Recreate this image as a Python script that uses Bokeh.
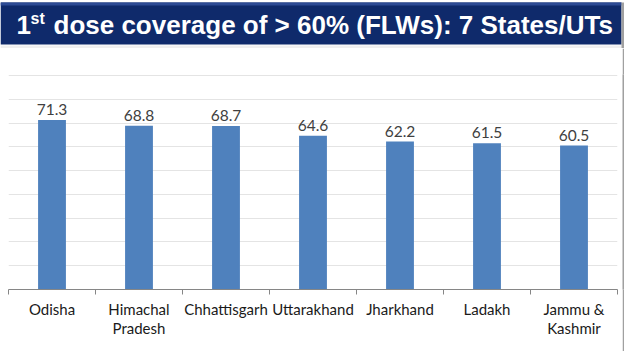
from bokeh.plotting import figure
from bokeh.models import (Range1d, LinearAxis, FixedTicker, ColumnDataSource, LabelSet)
from bokeh.layouts import column, row
from bokeh.core.properties import value
from bokeh.embed import file_html
from bokeh.resources import INLINE

# ---- data ----
states = ["Odisha", "Himachal\nPradesh", "Chhattisgarh", "Uttarakhand",
          "Jharkhand", "Ladakh", "Jammu &\nKashmir"]
coverage = [71.3, 68.8, 68.7, 64.6, 62.2, 61.5, 60.5]
y_ticks = [0, 10, 20, 30, 40, 50, 60, 70, 80, 90]
title_main = "dose coverage of > 60% (FLWs): 7 States/UTs"

NAVY = "#0f2a6b"
BAR = "#4f81bd"

# ---- title banner ----
t = figure(width=624, height=48, x_range=Range1d(0, 624), y_range=Range1d(0, 48),
           output_backend="svg", toolbar_location=None, min_border=0, title=None,
           x_axis_location=None, y_axis_location=None)
t.grid.visible = False
t.outline_line_color = None
t.background_fill_color = "white"
t.border_fill_color = "white"
t.quad(left=[0], right=[621], bottom=[4], top=[46], fill_color=NAVY, line_color=None)
t.quad(left=[0], right=[621], bottom=[43], top=[46], fill_color="#2c4a94", line_color=None)
t.quad(left=[0], right=[621], bottom=[0], top=[3], fill_color="#efefef", line_color=None)
t.quad(left=[621], right=[624], bottom=[0], top=[46], fill_color="#a0a0a0", line_color=None)
t.text(x=[16], y=[24], text=["1"], text_color="white", text_font=value("Liberation Sans"),
       text_font_style="bold", text_font_size="26px", text_baseline="alphabetic")
t.text(x=[30], y=[30.5], text=["st"], text_color="white", text_font=value("Liberation Sans"),
       text_font_style="bold", text_font_size="16px", text_baseline="alphabetic")
t.text(x=[53], y=[24], text=[title_main], text_color="white", text_font=value("Liberation Sans"),
       text_font_style="bold", text_font_size="26px", text_baseline="alphabetic")

# ---- bar chart ----
n = len(states)
centers = [i + 0.5 for i in range(n)]
boundaries = list(range(n + 1))
src = ColumnDataSource(dict(x=centers, cov=coverage,
                            lab=[f"{v:.1f}" for v in coverage]))

p = figure(width=622, height=303, x_range=Range1d(0, n),
           y_range=Range1d(0, 90.4), output_backend="svg", toolbar_location=None,
           x_axis_location=None, y_axis_location=None, title=None,
           min_border_top=26, min_border_bottom=62, min_border_left=8, min_border_right=5)
p.outline_line_color = None
p.background_fill_color = "white"

p.vbar(x="x", top="cov", width=0.32, source=src, fill_color=BAR, line_color=None)

labels = LabelSet(x="x", y="cov", text="lab", source=src, text_align="center",
                  text_baseline="bottom", y_offset=5, text_font=value("Lato"),
                  text_font_size="15.5px", text_color="#404040")
p.add_layout(labels)

p.xgrid.visible = False
p.ygrid.ticker = FixedTicker(ticks=y_ticks)
p.ygrid.grid_line_color = "#e4e4e4"
p.ygrid.grid_line_width = 1

# category axis: labels at bar centres, tick marks at category boundaries (minor ticks)
cat_axis = LinearAxis(ticker=FixedTicker(ticks=centers, minor_ticks=boundaries),
                      major_label_overrides={c: s for c, s in zip(centers, states)},
                      axis_line_color="#868686",
                      major_tick_line_color=None,
                      minor_tick_line_color="#868686", minor_tick_in=0, minor_tick_out=5,
                      major_label_text_font="Lato",
                      major_label_text_font_size="15px",
                      major_label_text_color="#1a1a1a",
                      major_label_text_line_height=1.1,
                      major_label_standoff=4)
p.add_layout(cat_axis, "below")

sep = figure(width=2, height=303, output_backend="svg", toolbar_location=None,
             min_border=0, title=None, x_axis_location=None, y_axis_location=None)
sep.grid.visible = False
sep.outline_line_color = None
sep.background_fill_color = "#a0a0a0"
sep.border_fill_color = "#a0a0a0"

layout = column(t, row(p, sep, spacing=0), spacing=0)
open("out.html", "w").write(file_html(layout, INLINE))
